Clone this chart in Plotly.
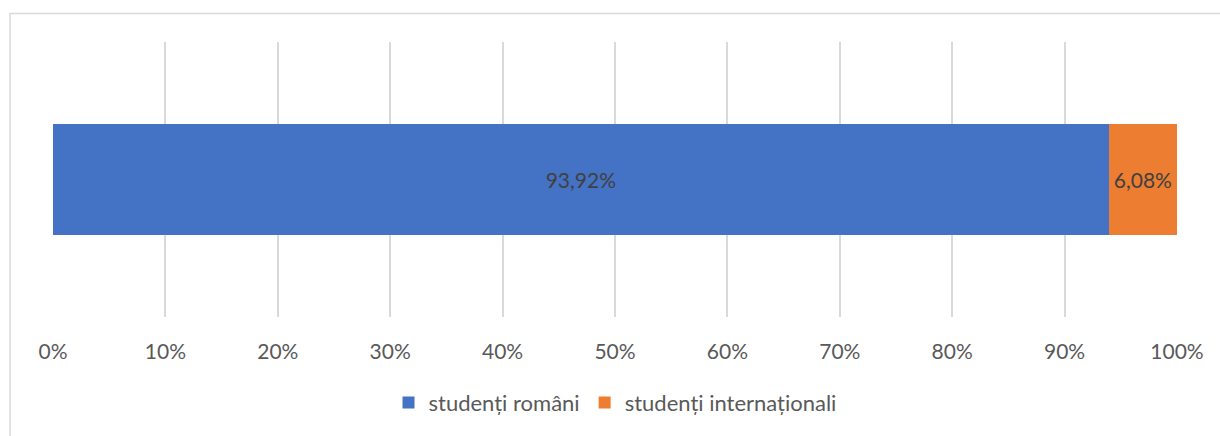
import plotly.graph_objects as go

categories = [""]
series_names = ["studenți români", "studenți internaționali"]
series_values = [[93.92], [6.08]]
series_labels = [["93,92%"], ["6,08%"]]
colors = ["#4472C4", "#ED7D31"]
tick_vals = [0, 10, 20, 30, 40, 50, 60, 70, 80, 90, 100]
tick_text = [f"{v}%" for v in tick_vals]

FONT = "Lato, 'Noto Sans', sans-serif"

fig = go.Figure()
for name, vals, labs, col in zip(series_names, series_values, series_labels, colors):
    fig.add_trace(go.Bar(
        y=categories, x=vals, name=name, orientation="h",
        marker=dict(color=col, line=dict(width=0)),
        text=labs, textposition="inside", insidetextanchor="middle",
        textfont=dict(family=FONT, size=21, color="#404040"),
        hoverinfo="skip",
    ))

W, H = 1220, 436
ml, mr, mt, mb = 53, 43, 42, 115
pw, ph = W - ml - mr, H - mt - mb

fig.update_layout(
    width=W, height=H,
    barmode="stack", bargap=0.595,
    margin=dict(l=ml, r=mr, t=mt, b=mb, pad=0),
    paper_bgcolor="white", plot_bgcolor="white",
    font=dict(family=FONT, size=21, color="#595959"),
    xaxis=dict(range=[0, 100], tickvals=tick_vals, ticktext=tick_text,
               showgrid=True, gridcolor="#D9D9D9", gridwidth=1.5,
               zeroline=False, showline=False, ticks="", ticklabelstandoff=20,
               tickfont=dict(family=FONT, size=21, color="#595959"), fixedrange=True),
    yaxis=dict(showticklabels=False, showgrid=False, zeroline=False, range=[-0.5, 0.5],
               fixedrange=True),
    legend=dict(orientation="h", x=0.5, xanchor="center", y=-0.235, yanchor="top",
                font=dict(family=FONT, size=22, color="#595959"), traceorder="normal",
                itemwidth=30),
    showlegend=True,
    uniformtext=dict(mode=False),
)

# chart-area border
x0 = (10 - ml) / pw
y1 = (H - mb - 13) / ph
fig.add_shape(type="rect", xref="paper", yref="paper", x0=x0, x1=1.2, y0=-0.6, y1=y1,
              line=dict(color="#D9D9D9", width=1.5), fillcolor="rgba(0,0,0,0)", layer="below")

fig.write_html("out.html", config={"displayModeBar": False},
               post_script="document.body.style.margin='0';")
